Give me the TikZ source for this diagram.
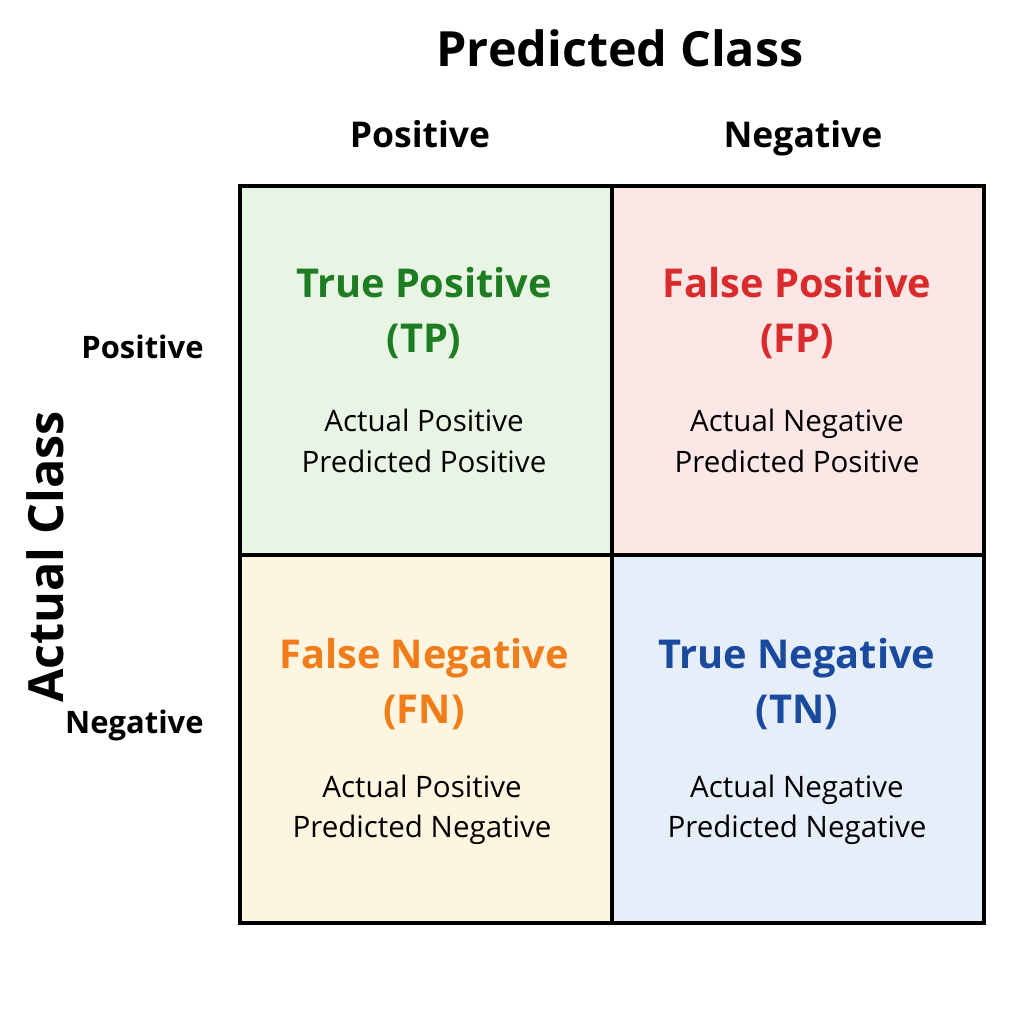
\documentclass[tikz,border=0pt]{standalone}
\usepackage{fontspec}
\setmainfont{Open Sans}
\usepackage{tikz}
\usetikzlibrary{positioning}
\definecolor{tpfill}{HTML}{E9F5E4}
\definecolor{fpfill}{HTML}{FDE6E6}
\definecolor{fnfill}{HTML}{FDF5DF}
\definecolor{tnfill}{HTML}{E6EEF9}
\definecolor{tptext}{HTML}{1E7D22}
\definecolor{fptext}{HTML}{D92B2B}
\definecolor{fntext}{HTML}{F07C1A}
\definecolor{tntext}{HTML}{1A4A9E}
\tikzset{
  cell/.style={draw=black,line width=1.2pt,minimum width=3.72cm,minimum height=3.685cm,inner sep=0pt},
  head/.style={font=\fontsize{13.8}{16}\selectfont\bfseries},
  label/.style={font=\fontsize{10.1}{12}\selectfont\bfseries,anchor=base},
  rowlabel/.style={font=\fontsize{8.8}{11}\selectfont\bfseries,anchor=base east},
  kind/.style={font=\fontsize{11.3}{15.5}\selectfont\bfseries,align=center},
  note/.style={font=\fontsize{8.4}{11.5}\selectfont,align=center}
}
\begin{document}
\begin{tikzpicture}[x=0.01cm,y=-0.01cm]
  \useasboundingbox (0,0) rectangle (1024,1024);
  \node[cell,fill=tpfill,anchor=north west] (TP) at (238,184) {};
  \node[cell,fill=fpfill,anchor=north west] (FP) at (610,184) {};
  \node[cell,fill=fnfill,anchor=north west] (FN) at (238,552.5) {};
  \node[cell,fill=tnfill,anchor=north west] (TN) at (610,552.5) {};

  \node[head] (pred) at (620,48) {Predicted Class};
  \node[label] (ppos) at (420,147) {Positive};
  \node[label] (pneg) at (803,147) {Negative};
  \node[head,rotate=90] (act) at (45,557) {Actual Class};
  \node[rowlabel] (apos) at (216,358) {Positive};
  \node[rowlabel] (aneg) at (216,733) {Negative};

  \node[kind,text=tptext] (tpk) at (424,313) {True Positive\\(TP)};
  \node[note] (tpn) at (424,441) {Actual Positive\\Predicted Positive};
  \node[kind,text=fptext] (fpk) at (797,313) {False Positive\\(FP)};
  \node[note] (fpn) at (797,441) {Actual Negative\\Predicted Positive};
  \node[kind,text=fntext] (fnk) at (424,684) {False Negative\\(FN)};
  \node[note] (fnn) at (422,810) {Actual Positive\\Predicted Negative};
  \node[kind,text=tntext] (tnk) at (797,684) {True Negative\\(TN)};
  \node[note] (tnn) at (797,810) {Actual Negative\\Predicted Negative};
\end{tikzpicture}
\end{document}
